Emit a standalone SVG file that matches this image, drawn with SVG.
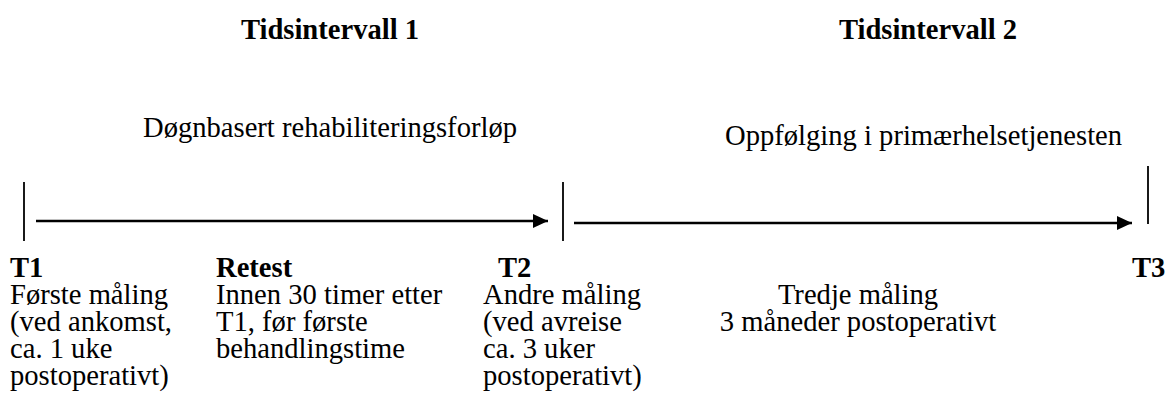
<svg xmlns="http://www.w3.org/2000/svg" width="1170" height="418" viewBox="0 0 1170 418">
<defs>
<style>
text{font-family:"Liberation Serif","Times New Roman",serif;fill:#000;font-size:28.6px}
.title{font-weight:bold;text-anchor:middle}
.b{font-weight:bold}
.tick{stroke:#000;stroke-width:1.8;fill:none}
.arrow{stroke:#000;stroke-width:2.4;fill:none;marker-end:url(#ah)}
</style>
<marker id="ah" viewBox="0 0 15 14" refX="15" refY="7" markerWidth="15" markerHeight="14" markerUnits="userSpaceOnUse" orient="auto">
<path d="M0,0 L15,7 L0,14 Z" fill="#000"/>
</marker>
</defs>
<rect width="1170" height="418" fill="#fff"/>
<g id="titles">
<text class="title" x="330" y="39">Tidsintervall 1</text>
<text class="title" x="928" y="39">Tidsintervall 2</text>
</g>
<g id="phase1"><text x="330" y="137" text-anchor="middle">Døgnbasert rehabiliteringsforløp</text></g>
<g id="phase2"><text x="725" y="145">Oppfølging i primærhelsetjenesten</text></g>
<g id="ticks">
<line class="tick" x1="24" y1="182" x2="24" y2="241"/>
<line class="tick" x1="563" y1="182" x2="563" y2="241"/>
<line class="tick" x1="1148" y1="166" x2="1148" y2="224"/>
</g>
<g id="connectors">
<line class="arrow" x1="36" y1="221" x2="548" y2="221"/>
<line class="arrow" x1="574" y1="223" x2="1132" y2="223"/>
</g>
<g id="T1">
<text class="b" x="10" y="277">T1</text>
<text x="10" y="304">Første måling</text>
<text x="10" y="331">(ved ankomst,</text>
<text x="10" y="358">ca. 1 uke</text>
<text x="10" y="385">postoperativt)</text>
</g>
<g id="Retest">
<text class="b" x="216" y="277">Retest</text>
<text x="216" y="304">Innen 30 timer etter</text>
<text x="216" y="331">T1, før første</text>
<text x="216" y="358">behandlingstime</text>
</g>
<g id="T2">
<text class="b" x="498" y="277">T2</text>
<text x="483" y="304">Andre måling</text>
<text x="483" y="331">(ved avreise</text>
<text x="483" y="358">ca. 3 uker</text>
<text x="483" y="385">postoperativt)</text>
</g>
<g id="T3">
<text class="b" x="1132" y="277">T3</text>
<text x="858" y="304" text-anchor="middle">Tredje måling</text>
<text x="858" y="331" text-anchor="middle">3 måneder postoperativt</text>
</g>
</svg>
